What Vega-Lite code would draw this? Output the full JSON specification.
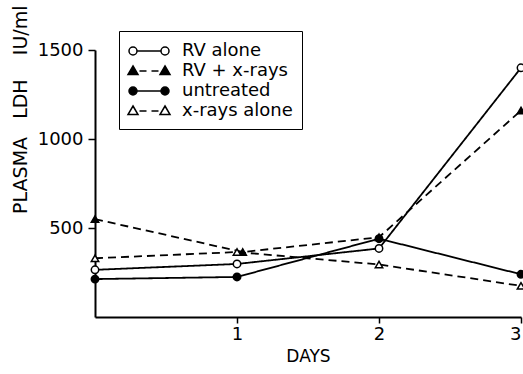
{
  "$schema": "https://vega.github.io/schema/vega-lite/v6.json",
  "width": 426,
  "height": 267,
  "autosize": {"type": "none"},
  "padding": {"left": 95, "top": 50, "right": 2, "bottom": 57},
  "background": "white",
  "config": {
    "view": {"stroke": null},
    "font": "DejaVu Sans",
    "axis": {
      "domainColor": "black", "domainWidth": 2, "tickColor": "black", "tickWidth": 1.5,
      "labelColor": "black", "titleColor": "black", "grid": false,
      "labelFont": "DejaVu Sans", "titleFont": "DejaVu Sans", "titleFontWeight": "normal"
    }
  },
  "data": {
    "values": [
      {"series": "RV alone", "day": 0, "ldh": 265},
      {"series": "RV alone", "day": 1, "ldh": 298},
      {"series": "RV alone", "day": 2, "ldh": 385},
      {"series": "RV alone", "day": 3, "ldh": 1400},
      {"series": "RV + x-rays", "day": 0, "ldh": 550},
      {"series": "RV + x-rays", "day": 1.04, "ldh": 365},
      {"series": "RV + x-rays", "day": 2, "ldh": 448},
      {"series": "RV + x-rays", "day": 3, "ldh": 1160},
      {"series": "untreated", "day": 0, "ldh": 213},
      {"series": "untreated", "day": 1, "ldh": 225},
      {"series": "untreated", "day": 2, "ldh": 440},
      {"series": "untreated", "day": 3, "ldh": 240},
      {"series": "x-rays alone", "day": 0, "ldh": 330},
      {"series": "x-rays alone", "day": 1, "ldh": 365},
      {"series": "x-rays alone", "day": 2, "ldh": 295},
      {"series": "x-rays alone", "day": 3, "ldh": 175}
    ]
  },
  "encoding": {
    "x": {
      "field": "day", "type": "quantitative",
      "scale": {"domain": [0, 3], "nice": false, "zero": false},
      "axis": {"values": [1, 2, 3], "format": "d", "tickSize": 6, "labelFontSize": 18, "labelPadding": 2,
               "title": "DAYS", "titleFontSize": 17, "titlePadding": 5}
    },
    "y": {
      "field": "ldh", "type": "quantitative",
      "scale": {"domain": [0, 1500], "nice": false},
      "axis": {"values": [500, 1000, 1500], "format": "d", "tickSize": 7, "labelFontSize": 18, "labelPadding": 5,
               "title": "PLASMA\u00a0\u00a0\u00a0LDH\u00a0\u00a0\u00a0\u00a0IU/ml", "titleFontSize": 19, "titleAnchor": null,
               "titleX": -75, "titleY": -45, "titleAlign": "right", "titleAngle": -90, "titleBaseline": "middle"}
    }
  },
  "layer": [
    {
      "mark": {"type": "line", "color": "black", "strokeWidth": 1.8},
      "encoding": {
        "detail": {"field": "series"},
        "strokeDash": {
          "field": "series", "type": "nominal",
          "scale": {"domain": ["RV alone", "RV + x-rays", "untreated", "x-rays alone"],
                    "range": [[1, 0], [8, 5], [1, 0], [8, 5]]},
          "legend": null
        }
      }
    },
    {
      "mark": {"type": "point", "stroke": "black", "strokeWidth": 1.5, "opacity": 1, "size": 55},
      "encoding": {
        "shape": {
          "field": "series", "type": "nominal",
          "scale": {"domain": ["RV alone", "RV + x-rays", "untreated", "x-rays alone"],
                    "range": ["circle", "triangle-up", "circle", "triangle-up"]},
          "legend": null
        },
        "fill": {
          "field": "series", "type": "nominal",
          "scale": {"domain": ["RV alone", "RV + x-rays", "untreated", "x-rays alone"],
                    "range": ["white", "black", "black", "white"]},
          "legend": null
        }
      }
    },
    {
      "transform": [{"filter": "datum.day < 0"}],
      "mark": {"type": "point", "filled": true, "strokeWidth": 1.5, "opacity": 1},
      "encoding": {
        "shape": {
          "field": "series", "type": "nominal", "title": null,
          "scale": {"domain": ["RV alone", "RV + x-rays", "untreated", "x-rays alone"],
                    "range": [
                      "M -0.2 0 A 0.4 0.4 0 1 1 -1 0 A 0.4 0.4 0 1 1 -0.2 0 M -0.2 0 L 2.2 0 M 3 0 A 0.4 0.4 0 1 1 2.2 0 A 0.4 0.4 0 1 1 3 0",
                      "M -0.6 -0.5 L -0.1 0.35 L -1.1 0.35 Z M 0.05 0 L 0.75 0 M 1.25 0 L 1.95 0 M 2.6 -0.5 L 3.1 0.35 L 2.1 0.35 Z",
                      "M -0.2 0 A 0.4 0.4 0 1 1 -1 0 A 0.4 0.4 0 1 1 -0.2 0 M -0.2 0 L 2.2 0 M 3 0 A 0.4 0.4 0 1 1 2.2 0 A 0.4 0.4 0 1 1 3 0",
                      "M -0.6 -0.5 L -0.1 0.35 L -1.1 0.35 Z M 0.05 0 L 0.75 0 M 1.25 0 L 1.95 0 M 2.6 -0.5 L 3.1 0.35 L 2.1 0.35 Z"
                    ]},
          "legend": {
            "orient": "none", "legendX": 24, "legendY": -19, "padding": 9,
            "strokeColor": "black", "symbolSize": 400, "labelFontSize": 18, "labelColor": "black",
            "labelFont": "DejaVu Sans", "labelOffset": 32, "rowPadding": 0,
            "symbolStrokeWidth": 1.5
          }
        },
        "fill": {
          "field": "series", "type": "nominal", "title": null,
          "scale": {"domain": ["RV alone", "RV + x-rays", "untreated", "x-rays alone"],
                    "range": ["white", "black", "black", "white"]}
        },
        "stroke": {
          "field": "series", "type": "nominal", "title": null,
          "scale": {"domain": ["RV alone", "RV + x-rays", "untreated", "x-rays alone"],
                    "range": ["black", "black", "black", "black"]}
        }
      }
    }
  ],
  "resolve": {"scale": {"shape": "independent", "fill": "independent", "stroke": "independent"}}
}
